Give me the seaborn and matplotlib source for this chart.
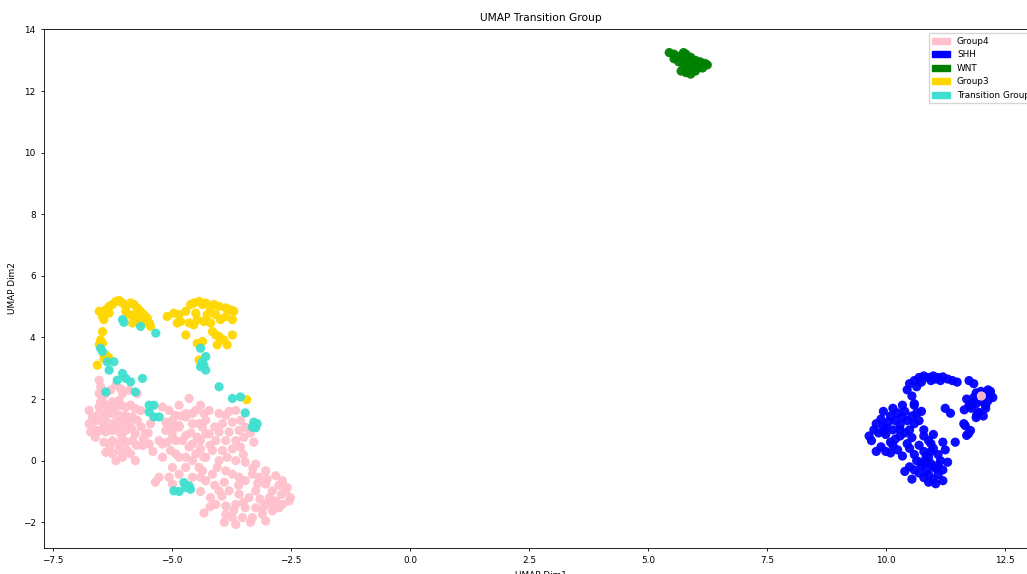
import matplotlib
matplotlib.use("Agg")
import matplotlib.pyplot as plt
import matplotlib.patches as mpatches
import seaborn as sns
import pandas as pd

# ---------------- data ----------------
shh_x = [10.45, 10.5, 10.6, 10.7, 10.8, 10.9, 11.0, 11.1, 11.2, 11.3, 11.4, 11.5, 10.75, 10.95, 11.15, 10.55, 10.6, 11.75, 11.85, 10.65, 11.05,
         11.9, 12.0, 12.1, 12.2, 12.25, 12.15, 12.05, 11.9, 11.8, 11.95, 12.1, 11.7, 11.85, 11.75, 12.2, 11.65, 11.9, 12.05,
         11.25, 11.36, 11.64, 11.67, 11.78, 11.74, 11.7, 11.46, 11.8, 11.85, 11.95, 12.1, 11.91,
         9.65, 9.7, 9.75, 9.8, 9.85, 9.9, 9.95, 10.0, 10.05, 10.1, 10.15, 10.2, 10.25, 10.3, 10.35, 10.4, 10.45, 10.5, 10.55, 10.6,
         10.65, 10.2, 10.1, 10.3, 10.45, 9.9, 9.8, 10.0, 10.1, 10.25, 9.95, 10.35, 10.15, 10.0, 10.4, 10.55, 10.7, 10.8, 10.75, 10.6,
         10.5, 10.6, 10.7, 10.8, 10.9, 11.0, 11.1, 10.65, 10.75, 10.85, 10.95, 11.05, 11.15, 10.7, 10.8, 10.9, 11.0, 11.1, 11.2, 10.6,
         10.5, 10.4, 11.25, 11.3, 11.2, 11.05, 10.35, 10.9, 11.0, 10.8, 11.2, 10.55, 10.95, 10.85, 11.1,
         10.9, 11.0, 10.85, 10.75, 10.95, 10.3, 10.15, 9.95, 12.15, 12.0]
shh_y = [2.3, 2.5, 2.6, 2.7, 2.75, 2.7, 2.75, 2.7, 2.72, 2.65, 2.6, 2.55, 2.55, 2.6, 2.6, 2.1, 1.8, 2.6, 2.5, 2.4, 2.65,
         2.2, 2.25, 2.2, 2.15, 2.05, 1.95, 1.9, 1.85, 1.7, 1.55, 1.8, 2.0, 2.05, 1.8, 2.25, 1.65, 1.4, 1.45,
         1.7, 1.54, 1.2, 1.14, 0.98, 0.88, 0.82, 0.6, 1.8, 1.9, 1.57, 1.7, 1.47,
         0.8, 0.65, 1.0, 1.2, 0.9, 1.35, 1.1, 0.85, 1.25, 1.45, 1.0, 1.3, 1.55, 1.15, 1.4, 1.6, 1.3, 1.0, 1.45, 1.2,
         1.55, 0.7, 0.6, 0.8, 0.55, 0.45, 0.3, 0.3, 0.25, 0.35, 1.6, 1.8, 1.7, 1.05, 0.9, 0.75, 1.3, 1.0, 1.6, 1.85,
         0.4, 0.2, 0.5, 0.3, 0.1, 0.4, 0.2, 0.0, -0.15, -0.3, -0.1, -0.25, 0.0, -0.4, -0.55, -0.7, -0.6, -0.45, -0.3, -0.3,
         -0.2, -0.35, 0.35, -0.05, -0.65, -0.75, 0.15, 0.65, 0.85, 0.8, 0.6, -0.6, 0.3, -0.05, -0.15,
         -0.45, -0.2, 0.15, -0.05, 0.55, 1.0, 0.5, 0.95, 2.3, 2.15]

wnt_x = [5.45, 5.55, 5.6, 5.7, 5.75, 5.8, 5.85, 5.9, 6.0, 6.1, 6.2, 6.25, 5.65, 5.75, 5.85, 5.95, 6.05, 5.8, 5.7, 5.9, 6.0, 6.15, 5.55, 5.95, 5.8]
wnt_y = [13.25, 13.2, 13.1, 13.15, 13.25, 13.2, 13.05, 13.1, 13.0, 12.95, 12.9, 12.85, 12.95, 12.85, 12.7, 12.8, 12.75, 12.6, 12.65, 12.55, 12.65, 12.75, 13.05, 12.9, 12.95]

g4_x = [-6.53, -6.5, -6.53, -6.46, -6.5, -6.39, -6.29, -6.18, -6.08, -6.04, -6.11, -5.9, -5.73,
        -6.74, -6.67, -6.74, -6.71, -6.61, -6.53, -6.43, -6.32, -6.25, -6.18, -6.08, -5.97, -5.87, -5.77, -5.66,
        -6.53, -6.39, -6.25, -6.11, -5.97, -5.83, -6.46, -6.32, -6.18, -6.04, -5.9, -5.73,
        -6.53, -6.39, -6.25, -6.11, -5.97, -5.77, -5.56, -6.43, -6.25, -6.11, -5.97, -5.83, -5.62,
        -6.39, -6.25, -6.11, -6.04, -5.87, -5.77, -6.18, -5.2,
        -5.2, -5.06, -4.85, -4.64, -4.92, -4.71, -4.5, -4.33, -5.13, -4.85, -4.57, -4.36, -4.99, -4.71, -4.47, -4.29,
        -4.92, -4.64, -4.4, -4.85, -4.57, -4.33, -5.03, -5.2,
        -4.4, -4.22, -4.01, -3.87, -3.66, -3.94, -3.73, -3.56, -3.46, -3.59, -3.8, -4.01, -4.22, -4.08, -3.87, -3.66,
        -3.49, -3.28, -3.94, -3.73, -3.56, -4.15, -4.01, -3.84, -3.66, -3.46, -3.24, -3.03, -2.82, -2.68, -2.58, -2.51,
        -2.68, -2.82, -2.89, -3.03, -3.17, -3.31, -3.46, -3.59, -3.73, -3.87, -4.05, -4.15, -4.29, -4.4, -3.24, -3.38,
        -3.59, -3.8, -4.01, -4.19, -4.08, -3.87, -3.66, -3.46, -3.24, -3.03, -2.89, -3.1, -3.31, -3.52, -3.73, -3.87,
        -2.75, -2.54, -2.61, -3.03, -3.66, -3.9, -3.35, -4.33,
        -5.48, -5.27, -5.13, -4.99, -4.85, -4.71, -4.57, -4.43, -4.29, -4.99, -4.78, -4.57, -4.4, -4.92, -4.71, -4.5,
        -4.29, -4.99, -4.71, -4.43, -5.27, -5.06, -4.85, -4.57, -4.36, -4.99, -5.35,
        -6.6, -6.45, -6.2, -6.0, -5.85, -5.65, -5.6, -5.75, -5.45, -6.3, -6.05, -5.95, -5.4, -5.1, -5.0, -4.8,
        -4.6, -4.2, -4.1, -3.8, -3.35, -3.5, -3.3, -3.0, -2.75, -2.7, -2.95, -3.15, -3.6, -3.9, -4.1, -3.7,
        -3.1, -2.9, -3.5, -4.4, -4.2, -6.62, -6.35, -5.5, -3.95, -3.2,
        12.01]
g4_y = [2.61, 2.4, 2.18, 2.07, 1.91, 2.18, 2.29, 2.45, 2.34, 2.18, 1.96, 2.29, 2.18,
        1.63, 1.42, 1.2, 0.93, 0.76, 1.74, 1.85, 1.8, 1.91, 1.74, 1.8, 1.74, 1.8, 1.69, 1.63,
        1.53, 1.47, 1.53, 1.47, 1.47, 1.42, 1.25, 1.2, 1.25, 1.2, 1.25, 1.31,
        0.98, 0.93, 0.98, 0.93, 0.98, 0.87, 0.87, 0.6, 0.65, 0.54, 0.6, 0.65, 0.49,
        0.27, 0.22, 0.33, 0.11, 0.22, 0.0, 0.0, 0.11,
        1.74, 1.63, 1.8, 2.02, 1.47, 1.53, 1.63, 1.53, 1.25, 1.14, 1.2, 1.09, 0.93, 0.82, 0.76, 0.87,
        0.65, 0.44, 0.38, 0.11, 0.0, 0.11, 0.33, 0.54,
        1.8, 1.63, 1.53, 1.47, 1.63, 1.2, 1.25, 1.31, 1.09, 0.98, 0.93, 0.93, 0.87, 0.65, 0.65, 0.65,
        0.76, 0.6, 0.33, 0.38, 0.44, 0.33, 0.0, 0.11, 0.0, -0.05, -0.11, -0.33, -0.49, -0.65, -0.87, -1.2,
        -1.42, -1.31, -0.98, -0.76, -0.54, -0.44, -0.65, -0.54, -0.44, -0.33, -0.22, -0.44, -0.65, -0.54, -0.98, -1.2,
        -1.09, -0.98, -0.98, -1.2, -1.42, -1.47, -1.42, -1.53, -1.53, -1.42, -1.63, -1.74, -1.85, -1.85, -1.85, -1.74,
        -1.53, -1.31, -0.98, -1.96, -2.07, -2.0, -2.0, -1.7,
        0.54, 0.65, 0.98, 1.31, 1.09, 1.42, 1.53, 1.2, 1.31, 0.76, 0.65, 0.54, 0.65, 0.22, 0.11, 0.22,
        0.11, -0.22, -0.22, -0.22, -0.54, -0.54, -0.44, -0.54, -0.33, -0.76, -0.7,
        1.3, 1.05, 1.1, 1.35, 1.05, 1.1, 0.7, 0.5, 1.2, 0.45, 0.75, 0.35, 0.3, 0.6, 1.1, 1.45,
        0.9, 0.5, 1.1, 1.6, 0.9, 0.2, -0.25, -0.6, -0.8, -1.1, -1.2, -1.25, -0.8, -0.7, -0.8, -1.6,
        -1.55, -1.4, -1.35, -1.0, -1.5, 1.0, 1.65, 0.9, -1.15, -0.75,
        2.1]

g3_x = [-6.53, -6.46, -6.39, -6.32, -6.25, -6.18, -6.11, -6.04, -5.97, -5.87, -5.8, -5.73, -5.66, -5.59, -5.52,
        -5.48, -5.45, -5.73, -5.8, -5.83, -5.66, -5.56, -5.97, -5.9, -6.32, -6.43, -6.46, -6.5, -6.53, -6.46,
        -6.43, -6.39, -6.57, -6.33,
        -5.1, -4.96, -4.85, -4.82, -4.89, -4.71, -4.61, -4.54, -4.43, -4.36, -4.29, -4.19, -4.12, -4.01, -3.87,
        -3.77, -3.7, -3.73, -3.87, -3.98, -4.08, -4.19, -4.33, -4.47, -4.54, -4.64, -4.5, -4.26, -4.15, -4.08,
        -4.01, -3.91, -3.84, -3.73, -4.05, -4.36, -4.47, -4.71, -4.43, -3.43]
g3_y = [4.85, 4.68, 4.9, 5.01, 5.07, 5.17, 5.2, 5.12, 5.01, 5.12, 5.07, 4.96, 4.85, 4.74, 4.63,
        4.47, 4.36, 4.63, 4.74, 4.47, 4.47, 4.52, 4.85, 4.74, 4.79, 4.58, 4.19, 3.92, 3.76, 3.81,
        3.32, 3.43, 3.1, 3.35,
        4.68, 4.79, 4.74, 4.52, 4.47, 4.85, 5.07, 5.12, 5.17, 5.07, 5.12, 4.96, 5.07, 5.01, 4.96,
        4.9, 4.85, 4.58, 4.68, 4.58, 4.74, 4.47, 4.52, 4.58, 4.41, 4.47, 4.79, 4.74, 4.19, 4.08,
        4.03, 3.92, 3.76, 4.08, 3.76, 3.87, 3.81, 4.08, 3.27, 1.98]

tr_x = [-6.04, -6.01, -5.66, -5.34, -6.46, -6.5, -6.36, -6.22, -6.32, -6.04, -5.97, -5.87, -5.62, -6.15, -5.77,
        -4.4, -4.29, -4.36, -4.4, -4.29, -4.33, -4.01, -3.73, -3.56,
        -5.48, -5.38, -5.48, -5.38, -5.27, -6.39,
        -3.46, -3.28, -3.21, -3.31, -3.24,
        -4.75, -4.64, -4.61, -4.71, -4.96, -4.85]
tr_y = [4.58, 4.49, 4.36, 4.14, 3.54, 3.65, 3.21, 3.21, 2.94, 2.83, 2.67, 2.56, 2.67, 2.61, 2.23,
        3.65, 3.38, 3.21, 3.05, 2.94, 3.1, 2.4, 2.02, 2.07,
        1.8, 1.8, 1.58, 1.42, 1.42, 2.23,
        1.55, 1.25, 1.2, 1.09, 1.07,
        -0.71, -0.82, -0.93, -0.87, -0.98, -1.0]

groups = ["Group4", "SHH", "WNT", "Group3", "Transition Group"]
colors = ["pink", "blue", "green", "gold", "turquoise"]

# drawing order: SHH, WNT, Group4, Group3, Transition Group
frames = [
    pd.DataFrame({"x": shh_x, "y": shh_y, "group": "SHH"}),
    pd.DataFrame({"x": wnt_x, "y": wnt_y, "group": "WNT"}),
    pd.DataFrame({"x": g4_x, "y": g4_y, "group": "Group4"}),
    pd.DataFrame({"x": g3_x, "y": g3_y, "group": "Group3"}),
    pd.DataFrame({"x": tr_x, "y": tr_y, "group": "Transition Group"}),
]
df = pd.concat(frames, ignore_index=True)

plt.rcParams["font.family"] = ["DejaVu Sans"]
plt.rcParams["font.size"] = 6.4
plt.rcParams["axes.linewidth"] = 0.6
plt.rcParams["xtick.major.width"] = 0.6
plt.rcParams["ytick.major.width"] = 0.6
plt.rcParams["xtick.major.size"] = 2.5
plt.rcParams["ytick.major.size"] = 2.5

fig = plt.figure(figsize=(10.27, 5.74), dpi=100)
ax = fig.add_axes([44 / 1027, 26 / 574, (1038 - 44) / 1027, (548 - 29) / 574])

sns.scatterplot(data=df, x="x", y="y", hue="group", hue_order=groups,
                palette=dict(zip(groups, colors)), s=44, linewidth=0,
                alpha=0.95, legend=False, ax=ax)

ax.set_title("UMAP Transition Group", fontsize=7.7)
ax.set_xlabel("UMAP Dim1", fontsize=6.4)
ax.set_ylabel("UMAP Dim2", fontsize=6.4)
ax.tick_params(labelsize=6.4)

handles = [mpatches.Patch(color=c, label=g) for g, c in zip(groups, colors)]
ax.legend(handles=handles, loc="upper right", fontsize=6.4, framealpha=0.8)

fig.savefig("out.png", dpi=100)
